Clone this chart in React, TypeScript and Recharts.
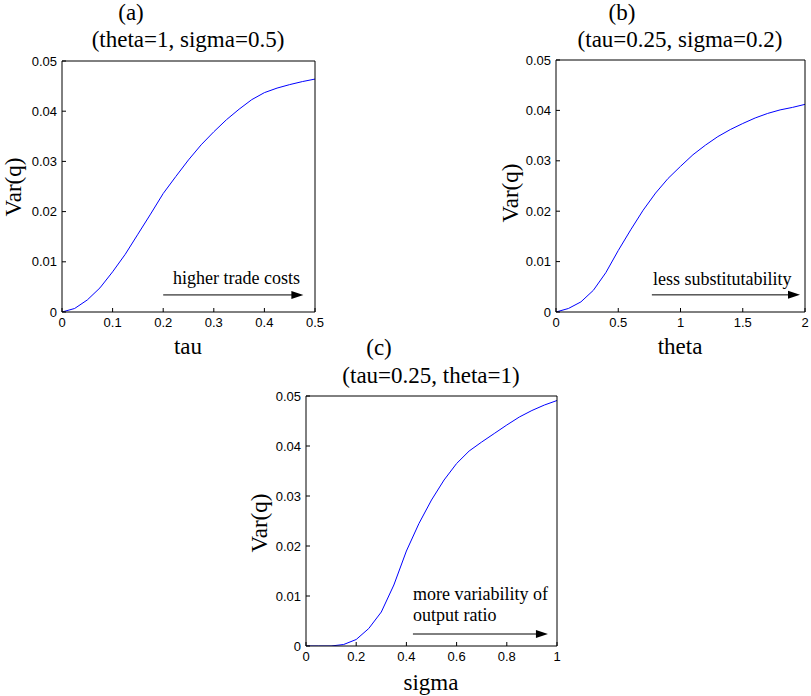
import React from 'react';
import { LineChart, Line, XAxis, YAxis, ReferenceLine } from 'recharts';

// ---- data ----
const tauValues = [0, 0.025, 0.05, 0.075, 0.1, 0.125, 0.15, 0.175, 0.2, 0.225, 0.25, 0.275, 0.3, 0.325, 0.35, 0.375, 0.4, 0.425, 0.45, 0.475, 0.5];
const varQByTau = [0, 0.0007, 0.0024, 0.0048, 0.008, 0.0115, 0.0155, 0.0195, 0.0236, 0.027, 0.0303, 0.0333, 0.0359, 0.0383, 0.0404, 0.0423, 0.0437, 0.0446, 0.0453, 0.0459, 0.0464];

const thetaValues = [0, 0.1, 0.2, 0.3, 0.4, 0.5, 0.6, 0.7, 0.8, 0.9, 1, 1.1, 1.2, 1.3, 1.4, 1.5, 1.6, 1.7, 1.8, 1.9, 2];
const varQByTheta = [0, 0.0007, 0.002, 0.0043, 0.0078, 0.0122, 0.0163, 0.0202, 0.0236, 0.0265, 0.0289, 0.0312, 0.0331, 0.0348, 0.0362, 0.0374, 0.0385, 0.0394, 0.0401, 0.0406, 0.0412];

const sigmaValues = [0, 0.05, 0.1, 0.15, 0.2, 0.25, 0.3, 0.35, 0.4, 0.45, 0.5, 0.55, 0.6, 0.65, 0.7, 0.75, 0.8, 0.85, 0.9, 0.95, 1];
const varQBySigma = [0, 0, 0, 0.0003, 0.0013, 0.0035, 0.0068, 0.0122, 0.019, 0.0245, 0.0292, 0.0332, 0.0365, 0.039, 0.0408, 0.0425, 0.0442, 0.0458, 0.0471, 0.0482, 0.0491];

const yTicks = [0, 0.01, 0.02, 0.03, 0.04, 0.05];
const tauTicks = [0, 0.1, 0.2, 0.3, 0.4, 0.5];
const thetaTicks = [0, 0.5, 1, 1.5, 2];
const sigmaTicks = [0, 0.2, 0.4, 0.6, 0.8, 1];

const titles = ['(a)', '(b)', '(c)'];
const subtitles = ['(theta=1, sigma=0.5)', '(tau=0.25, sigma=0.2)', '(tau=0.25, theta=1)'];
const xLabels = ['tau', 'theta', 'sigma'];
const yLabel = 'Var(q)';
const notes = [['higher trade costs'], ['less substitutability'], ['more variability of', 'output ratio']];

// arrow annotation anchors in data units: [xStart, xEnd, y]
const arrowA = [0.2, 0.477, 0.0034];
const arrowB = [0.77, 1.96, 0.0034];
const arrowC = [0.426, 0.964, 0.0024];

const SANS = 'Liberation Sans, Arial, sans-serif';
const SERIF = 'Liberation Serif, Times New Roman, serif';

const fmtY = (v: number) => (v === 0 ? '0' : v.toFixed(2));
const fmtX = (v: number) => String(v);

function Arrow(props: any) {
  const { x1, y1, x2, y2 } = props;
  const hl = 12;
  const hw = 4;
  return (
    <g>
      <line x1={x1} y1={y1} x2={x2 - hl + 1} y2={y2} stroke="#000" strokeWidth={1} />
      <polygon points={`${x2},${y2} ${x2 - hl},${y2 - hw} ${x2 - hl},${y2 + hw}`} fill="#000" />
    </g>
  );
}

type PanelProps = {
  left: number;
  top: number;
  w: number;
  h: number;
  axL: number;
  axR: number;
  axT: number;
  axB: number;
  xs: number[];
  ys: number[];
  xTicks: number[];
  arrow: number[];
};

function Panel(p: PanelProps) {
  const data = p.xs.map((x, i) => ({ x, v: p.ys[i] }));
  const dom: [number, number] = [p.xTicks[0], p.xTicks[p.xTicks.length - 1]];
  const tickStyle = { fontSize: 13, fill: '#000', fontFamily: SANS };
  return (
    <div style={{ position: 'absolute', left: p.left, top: p.top }}>
      <LineChart width={p.w} height={p.h} data={data} margin={{ top: 0, right: 0, bottom: 0, left: 0 }}>
        <XAxis
          xAxisId="b"
          dataKey="x"
          type="number"
          domain={dom}
          ticks={p.xTicks}
          interval={0}
          orientation="bottom"
          height={p.axB}
          tickSize={-4}
          tickMargin={10}
          tickFormatter={fmtX}
          tick={tickStyle}
          stroke="#000"
          allowDataOverflow
        />
        <XAxis
          xAxisId="t"
          dataKey="x"
          type="number"
          domain={dom}
          ticks={p.xTicks}
          interval={0}
          orientation="top"
          height={p.axT}
          tickSize={-4}
          tick={false}
          stroke="#000"
          allowDataOverflow
        />
        <YAxis
          yAxisId="l"
          type="number"
          domain={[0, 0.05]}
          ticks={yTicks}
          interval={0}
          orientation="left"
          width={p.axL}
          tickSize={-4}
          tickMargin={9}
          tickFormatter={fmtY}
          tick={tickStyle}
          stroke="#000"
          allowDataOverflow
        />
        <YAxis
          yAxisId="r"
          type="number"
          domain={[0, 0.05]}
          ticks={yTicks}
          interval={0}
          orientation="right"
          width={p.axR}
          tickSize={-4}
          tick={false}
          stroke="#000"
          allowDataOverflow
        />
        <Line
          xAxisId="b"
          yAxisId="l"
          dataKey="v"
          type="linear"
          stroke="#0000ff"
          strokeWidth={1}
          dot={false}
          activeDot={false}
          isAnimationActive={false}
        />
        <ReferenceLine
          xAxisId="b"
          yAxisId="l"
          segment={[
            { x: p.arrow[0], y: p.arrow[2] },
            { x: p.arrow[1], y: p.arrow[2] },
          ]}
          shape={Arrow}
          ifOverflow="visible"
        />
      </LineChart>
    </div>
  );
}

export default function App() {
  return (
    <div style={{ position: 'absolute', left: 0, top: 0, width: 811, height: 696, background: '#fff', overflow: 'hidden' }}>
      <Panel left={0} top={0} w={330} h={340} axL={62} axR={15} axT={61} axB={28} xs={tauValues} ys={varQByTau} xTicks={tauTicks} arrow={arrowA} />
      <Panel left={470} top={0} w={341} h={340} axL={86} axR={6} axT={60} axB={28} xs={thetaValues} ys={varQByTheta} xTicks={thetaTicks} arrow={arrowB} />
      <Panel left={230} top={330} w={340} h={366} axL={76} axR={13} axT={66} axB={50} xs={sigmaValues} ys={varQBySigma} xTicks={sigmaTicks} arrow={arrowC} />
      <svg width={811} height={696} style={{ position: 'absolute', left: 0, top: 0, pointerEvents: 'none' }}>
        <g fontFamily={SERIF} fontSize={23} fill="#000">
          <text x={131} y={20} textAnchor="middle">{titles[0]}</text>
          <text x={188} y={47} textAnchor="middle">{subtitles[0]}</text>
          <text x={622} y={20} textAnchor="middle">{titles[1]}</text>
          <text x={680} y={47} textAnchor="middle">{subtitles[1]}</text>
          <text x={379} y={355} textAnchor="middle">{titles[2]}</text>
          <text x={431} y={383} textAnchor="middle">{subtitles[2]}</text>
          <text x={188} y={354} textAnchor="middle">{xLabels[0]}</text>
          <text x={680} y={354} textAnchor="middle">{xLabels[1]}</text>
          <text x={431} y={690} textAnchor="middle">{xLabels[2]}</text>
          <text transform="translate(21,187) rotate(-90)" textAnchor="middle">{yLabel}</text>
          <text transform="translate(518,193) rotate(-90)" textAnchor="middle">{yLabel}</text>
          <text transform="translate(267,523) rotate(-90)" textAnchor="middle">{yLabel}</text>
        </g>
        <g fontFamily={SERIF} fontSize={18} fill="#000">
          <text x={173} y={284}>{notes[0][0]}</text>
          <text x={653} y={285}>{notes[1][0]}</text>
          <text x={413} y={600}>{notes[2][0]}</text>
          <text x={413} y={621}>{notes[2][1]}</text>
        </g>
      </svg>
    </div>
  );
}
